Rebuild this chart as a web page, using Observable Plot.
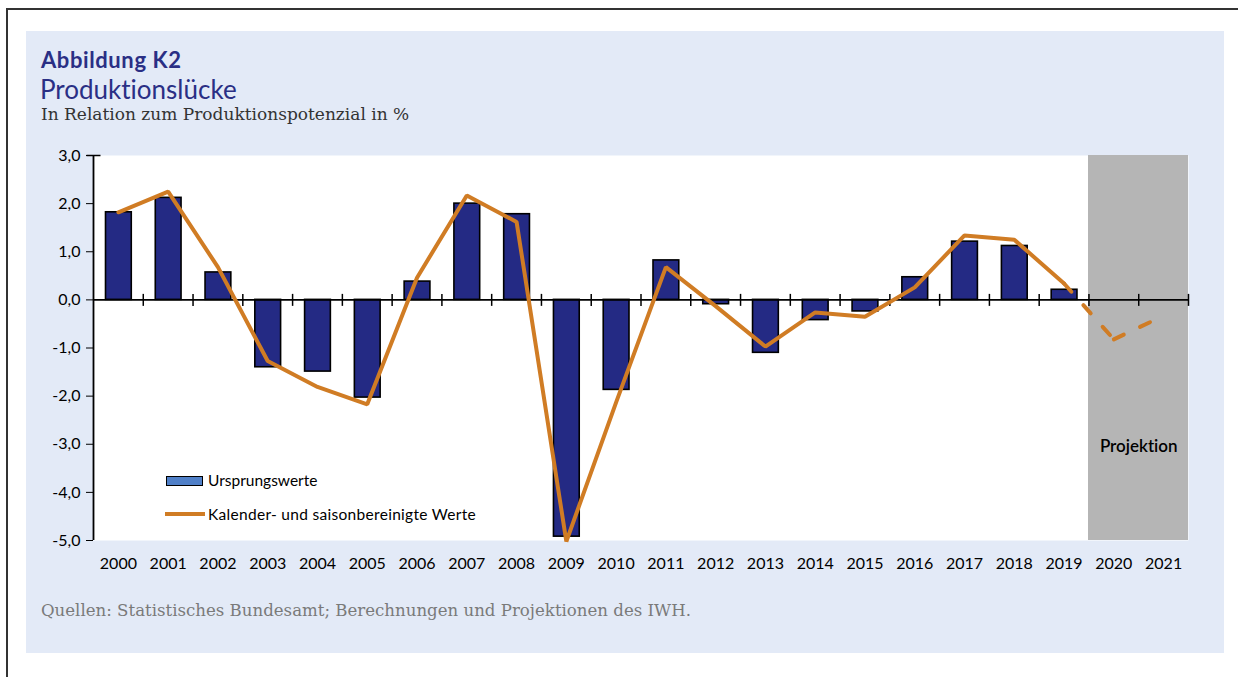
<!DOCTYPE html>
<html><head><meta charset="utf-8">
<script src="https://cdn.jsdelivr.net/npm/d3@7"></script>
<script src="https://cdn.jsdelivr.net/npm/@observablehq/plot@0.6"></script>
<style>
html,body{margin:0;padding:0;background:#fff;width:1238px;height:677px;overflow:hidden;position:relative;font-family:Lato,sans-serif;font-variant-ligatures:none;}
.abs{position:absolute;white-space:nowrap;line-height:1;}
</style></head><body>
<div class="abs" style="left:6px;top:8px;width:1.5px;height:669px;background:#333"></div>
<div class="abs" style="left:6px;top:8px;width:1232px;height:1.5px;background:#333"></div>
<div class="abs" style="left:26px;top:31px;width:1198px;height:622px;background:#E3EAF7"></div>
<div class="abs" style="left:41px;top:49px;font-size:22px;letter-spacing:0.6px;font-weight:700;color:#2A2F85">Abbildung K2</div>
<div class="abs" style="left:40px;top:76px;font-size:26px;font-weight:400;color:#2A2F85">Produktionslücke</div>
<div class="abs" style="left:41px;top:106px;font-size:17px;font-family:'DejaVu Serif',serif;color:#333">In Relation zum Produktionspotenzial in %</div>
<div id="chart" class="abs" style="left:26px;top:140px"></div>
<div class="abs" style="left:166px;top:475.5px;width:37px;height:10px;box-sizing:border-box;background:#5080C8;border:1.5px solid #000"></div>
<div class="abs" style="left:208px;top:473px;font-size:15.5px;color:#000">Ursprungswerte</div>
<div class="abs" style="left:165px;top:511.5px;width:40px;height:4px;background:#D07C24"></div>
<div class="abs" style="left:208px;top:507px;font-size:15.5px;letter-spacing:0.3px;color:#000">Kalender- und saisonbereinigte Werte</div>
<div class="abs" style="left:41px;top:603px;font-size:16.6px;font-family:'DejaVu Serif',serif;color:#7A7A7A">Quellen: Statistisches Bundesamt; Berechnungen und Projektionen des IWH.</div>
<script>
// ---- data ----
const years = [2000,2001,2002,2003,2004,2005,2006,2007,2008,2009,2010,2011,2012,2013,2014,2015,2016,2017,2018,2019,2020,2021];
const barYears = [2000,2001,2002,2003,2004,2005,2006,2007,2008,2009,2010,2011,2012,2013,2014,2015,2016,2017,2018,2019];
const ursprungswerte = [1.82,2.12,0.57,-1.40,-1.49,-2.03,0.38,2.00,1.78,-4.92,-1.87,0.82,-0.09,-1.10,-0.42,-0.24,0.47,1.21,1.12,0.21];
const bereinigt = [1.82,2.25,0.68,-1.27,-1.81,-2.17,0.46,2.17,1.62,-5.02,-2.13,0.68,-0.13,-0.97,-0.26,-0.35,0.26,1.34,1.25,0.34];
const projYearsLine = [2019,2020,2021];
const projValues = [0.34,-0.82,-0.33];
const projYears = [2020,2021];
const yTicks = [-5,-4,-3,-2,-1,0,1,2,3];
const yDomain = [-5,3];
const projLabel = [{year:2020, value:-3.05, text:"Projektion"}];

// ---- layout ----
const W = 1198, H = 445, mL = 67, mR = 36, mT = 15, mB = 45;
const bw = (W - mL - mR) / years.length;

const barData = barYears.map((y,i)=>({year:y, value:ursprungswerte[i]}));
const lineData = barYears.map((y,i)=>({year:y, value:bereinigt[i]}));
const projLine = [];
for (let i = 0; i < projYearsLine.length - 1; i++) {
  projLine.push({year:projYearsLine[i], value:projValues[i], seg:i});
  projLine.push({year:projYearsLine[i+1], value:projValues[i+1], seg:i});
}
const vtick = {draw(ctx){ ctx.moveTo(0,-6); ctx.lineTo(0,6); }};
const htick = {draw(ctx){ ctx.moveTo(-7,0); ctx.lineTo(7,0); }};
const orange = "#D07C24";

const chart = Plot.plot({
  width: W, height: H, marginLeft: mL, marginRight: mR, marginTop: mT, marginBottom: mB,
  style: {background: "transparent", fontFamily: "Lato, sans-serif", fontSize: "16px", color: "#000", overflow: "visible"},
  x: {type: "band", domain: years, padding: 0, round: false, label: null},
  y: {domain: yDomain, label: null},
  marks: [
    Plot.frame({fill: "white", stroke: null}),
    Plot.barY(projYears, {x: d => d, y1: yDomain[0], y2: yDomain[1], fill: "#B5B5B5", shapeRendering: "crispEdges"}),
    Plot.barY(barData, {x: "year", y: "value", fill: "#242A84", stroke: "#000", strokeWidth: 1.6, insetLeft: 12.5, insetRight: 11.5}),
    Plot.ruleY([0], {stroke: "#000", strokeWidth: 1.8}),
    Plot.dot(years.slice(1), {x: d => d, y: 0, dx: -bw/2, symbol: vtick, stroke: "#000", strokeWidth: 1.5}),
    Plot.dot([years[years.length-1]], {x: d => d, y: 0, dx: bw/2, symbol: vtick, stroke: "#000", strokeWidth: 1.5}),
    Plot.ruleX([years[0]], {dx: -bw/2, stroke: "#000", strokeWidth: 1.8}),
    Plot.dot([years[0]], {x: d => d, y: yDomain[1], dx: -bw/2, symbol: htick, stroke: "#000", strokeWidth: 1.5}),
    Plot.line(lineData, {x: "year", y: "value", stroke: orange, strokeWidth: 4, strokeLinejoin: "miter"}),
    Plot.line(projLine, {x: "year", y: "value", z: "seg", stroke: orange, strokeWidth: 4, strokeDasharray: "11,18", strokeLinecap: "round"}),
    Plot.text(projLabel, {x: "year", y: "value", text: "text", dx: bw/2, fontSize: 17, fontWeight: 600, fill: "#000"}),
    Plot.axisY({ticks: yTicks, tickSize: 7, tickPadding: 6, tickFormat: d => d.toFixed(1).replace(".", ","), fontSize: 16}),
    Plot.axisX({tickSize: 0, tickPadding: 17, tickFormat: d => String(d), fontSize: 16})
  ]
});
document.getElementById("chart").appendChild(chart);
</script>
</body></html>
